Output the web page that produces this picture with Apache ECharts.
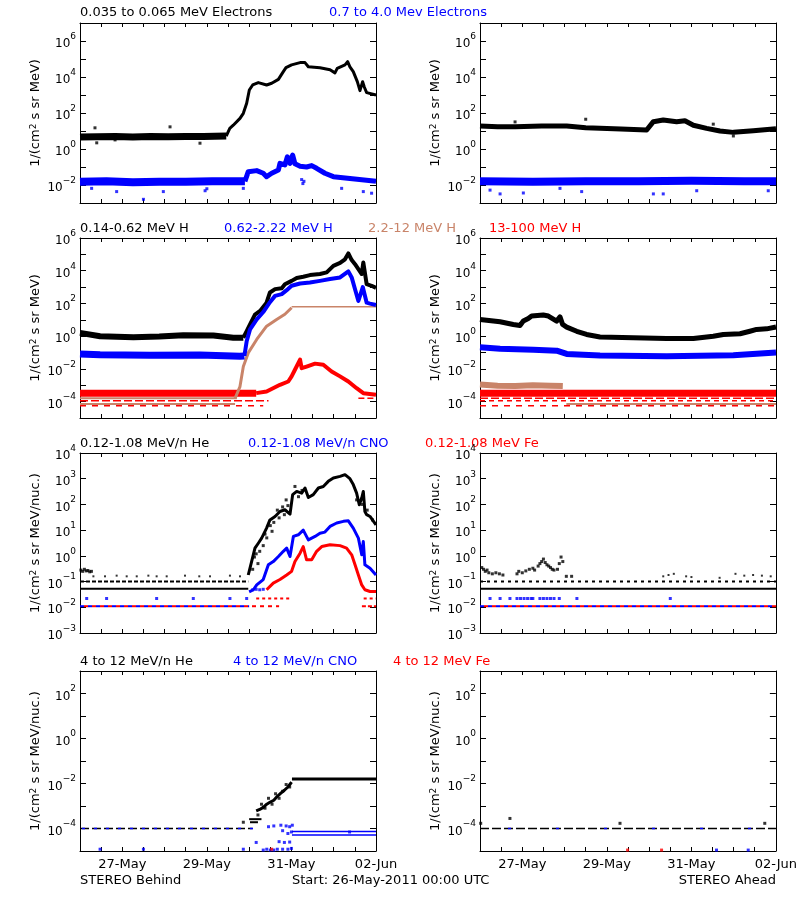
<!DOCTYPE html>
<html><head><meta charset="utf-8">
<script src="https://cdn.jsdelivr.net/npm/echarts@6/dist/echarts.min.js"></script>
<style>html,body{margin:0;padding:0;background:#fff}#c{width:800px;height:900px}</style>
</head><body><div id="c"></div>
<script>
// ---------- tick labels / texts ----------
const xTickHours = [24, 72, 120, 168];
const xTickLabels = ['27-May', '29-May', '31-May', '02-Jun'];
const row1Titles = [['0.035 to 0.065 MeV Electrons', 'k'], ['0.7 to 4.0 Mev Electrons', 'b']];
const row2Titles = [['0.14-0.62 MeV H', 'k'], ['0.62-2.22 MeV H', 'b'], ['2.2-12 MeV H', 'o'], ['13-100 MeV H', 'r']];
const row3Titles = [['0.12-1.08 MeV/n He', 'k'], ['0.12-1.08 MeV/n CNO', 'b'], ['0.12-1.08 MeV Fe', 'r']];
const row4Titles = [['4 to 12 MeV/n He', 'k'], ['4 to 12 MeV/n CNO', 'b'], ['4 to 12 MeV Fe', 'r']];
const footerTexts = ['STEREO Behind', 'Start: 26-May-2011 00:00 UTC', 'STEREO Ahead'];
const yNameE = '1/(cm{s|2} s sr MeV)';
const yNameN = '1/(cm{s|2} s sr MeV/nuc.)';

// ---------- data (hours after 26-May-2011 00:00, values) ----------
// Row 1 : electrons
const eLoB_base_t = [0, 10, 20, 30, 40, 50, 60, 70, 83];
const eLoB_base_v = [4.6, 4.8, 4.9, 4.7, 5.0, 4.8, 5.0, 4.9, 5.2];
const eLoB_t = [83, 85, 87, 90.8, 92.7, 94.6, 96.1, 98, 101.2, 105.9, 108.8, 112.6, 115.4, 116.9, 120.1, 124.9, 127.7, 129.6, 136.2, 141.9, 144.7, 146, 150.4, 151.9, 153.2, 155.1, 157.4, 158.9, 160.4, 161.4, 162.7, 168];
const eLoB_v = [5.2, 14, 21, 50, 96, 345, 1900, 3600, 4900, 3600, 4500, 7400, 20000, 33000, 47000, 63000, 63000, 37000, 33000, 25000, 17000, 30000, 47000, 71000, 37000, 20000, 5500, 1740, 5500, 2700, 1350, 1000];
const eLoB_out_t = [8.5, 9.5, 19.9, 51.1, 68.1];
const eLoB_out_v = [15, 2.2, 3.2, 17, 2.1];
const eHiB_base_t = [0, 15, 30, 45, 60, 75, 93.6];
const eHiB_base_v = [0.015, 0.016, 0.014, 0.015, 0.015, 0.016, 0.016];
const eHiB_t = [93.6, 95.5, 100.3, 104, 105.9, 108.8, 112.6, 113.5, 116.3, 117.7, 119.2, 120.7, 122, 124.9, 128.6, 131.5, 134.3, 139, 143.8, 153.2, 168];
const eHiB_v = [0.016, 0.055, 0.063, 0.045, 0.029, 0.045, 0.068, 0.16, 0.13, 0.37, 0.16, 0.46, 0.15, 0.11, 0.1, 0.12, 0.085, 0.045, 0.029, 0.023, 0.016];
const eHiB_out_t = [6.6, 20.8, 36, 47.3, 71, 72, 92.7, 125.8, 126.5, 127.1, 148.5, 160.8, 165.5];
const eHiB_out_v = [0.0065, 0.0043, 0.0016, 0.0043, 0.0048, 0.0062, 0.0065, 0.02, 0.012, 0.016, 0.0065, 0.0043, 0.0035];
const eLoA_t = [0, 10, 20, 35, 49.2, 60, 68.1, 80, 94.6, 98.4, 104, 111.6, 116.3, 121.1, 128.6, 136.2, 143.8, 155.1, 168];
const eLoA_v = [19, 17, 17, 19, 19, 15, 14, 13, 11.4, 33, 41, 33, 37, 21, 14, 10, 8.4, 10.4, 13.5];
const eLoA_out_t = [19.9, 60, 132.4, 143.8];
const eLoA_out_v = [32, 45, 24, 5.3];
const eHiA_t = [0, 30, 60, 90, 120, 150, 168];
const eHiA_v = [0.016, 0.015, 0.016, 0.016, 0.017, 0.016, 0.016];
const eHiA_out_t = [5.7, 11.4, 24.6, 45.4, 57.7, 98.4, 104, 123, 163.6];
const eHiA_out_v = [0.0052, 0.0032, 0.0036, 0.0065, 0.0043, 0.0032, 0.0032, 0.0048, 0.0048];

// Row 2 : protons
const h1B_base_t = [0, 11.4, 30.3, 45, 58.6, 75.7, 87, 92.7];
const h1B_base_v = [1.6, 1.0, 0.87, 0.95, 1.15, 1.1, 0.8, 0.8];
const h1B_t = [92.7, 94.6, 96.5, 99.3, 102.2, 105.9, 107.8, 110.7, 114.5, 116.3, 120.1, 123, 126.7, 130.5, 136.2, 140, 143.8, 147.6, 150.4, 152.3, 154.2, 156.1, 158, 159.9, 160.8, 162.7, 165.5, 168];
const h1B_v = [0.8, 2, 5.2, 21, 35, 112, 470, 750, 860, 1500, 2400, 3600, 4300, 5400, 6300, 7900, 20000, 30000, 50000, 115000, 45000, 25000, 12600, 6300, 32000, 1500, 1200, 900];
const h2B_base_t = [0, 11.4, 39.7, 68.1, 90.8, 93.3];
const h2B_base_v = [0.082, 0.074, 0.068, 0.07, 0.059, 0.062];
const h2B_t = [93.3, 94.6, 96.5, 100.3, 104, 107.8, 110.7, 114.5, 117.3, 120.1, 124.9, 130.5, 136.2, 141.9, 147.6, 152.3, 154.2, 156.1, 158, 160.5, 162.7, 164.6, 168];
const h2B_v = [0.062, 0.49, 2.6, 10.6, 30, 120, 290, 370, 650, 1200, 1660, 1900, 2400, 3100, 3900, 9100, 3900, 740, 141, 1000, 112, 98, 81];
const h3B_lv1_t = [0, 89];
const h3B_lv1_v = [1.6e-4, 1.6e-4];
const h3B_lv2_t = [0, 88];
const h3B_lv2_v = [7.2e-5, 7.2e-5];
const h3B_t = [88, 90.8, 92.7, 95.5, 100.3, 105.9, 111.6, 116.3, 120.1];
const h3B_v = [1.6e-4, 8.3e-4, 0.014, 0.095, 0.63, 4.1, 10.6, 22, 55];
const h3B_sat_t = [120.1, 168];
const h3B_sat_v = [64, 64];
const h4B_base_t = [0, 20, 40, 60, 80, 100];
const h4B_base_v = [3.3e-4, 3.2e-4, 3.3e-4, 3.2e-4, 3.3e-4, 3.3e-4];
const h4B_t = [100, 105.9, 113.5, 118.2, 120.1, 122, 124.9, 125.8, 128.6, 133.4, 138.1, 142.8, 147.6, 152.3, 157, 160.8, 168];
const h4B_v = [3.3e-4, 4.2e-4, 1.07e-3, 1.7e-3, 3.5e-3, 8.9e-3, 0.037, 0.011, 0.014, 0.021, 0.018, 7e-3, 3.5e-3, 1.7e-3, 6.6e-4, 3.3e-4, 2.6e-4];
const h4B_q1_t = [0, 107];
const h4B_q1_v = [1.15e-4, 1.15e-4];
const h4B_q2_t = [0, 104];
const h4B_q2_v = [5.6e-5, 5.6e-5];
const h4B_q3_t = [158, 168];
const h4B_q3_v = [1.6e-4, 1.6e-4];
const h1A_t = [0, 11.4, 18.9, 22.7, 24.6, 27.4, 29.3, 35.9, 38.8, 43.5, 45.4, 46.9, 49.2, 54.9, 60.5, 68.1, 87, 105.9, 121.1, 132.4, 138.1, 147.6, 153.2, 157, 162.7, 168];
const h1A_v = [10.6, 7.6, 5.2, 4.5, 8.4, 12, 17, 19.6, 17, 8.4, 15, 5.2, 3.6, 2, 1.27, 0.9, 0.79, 0.72, 0.72, 0.98, 1.27, 1.4, 2.0, 2.6, 2.8, 3.6];
const h2A_t = [0, 11.4, 30.3, 43.5, 49.2, 68.1, 105.9, 143.8, 168];
const h2A_v = [0.21, 0.17, 0.15, 0.13, 0.082, 0.065, 0.059, 0.068, 0.1];
const h3A_base_t = [0, 10, 20, 30, 40, 47];
const h3A_base_v = [1.1e-3, 9.5e-4, 9e-4, 1.0e-3, 9.5e-4, 9e-4];
const h3A_low_t = [49, 168];
const h3A_low_v = [7.2e-5, 7.2e-5];
const h4A_t = [0, 40, 80, 120, 168];
const h4A_v = [3.3e-4, 3.2e-4, 3.3e-4, 3.3e-4, 3.3e-4];
const h4A_q1_t = [0, 168];
const h4A_q1_v = [1.6e-4, 1.6e-4];
const h4A_q2_t = [0, 168];
const h4A_q2_v = [1.15e-4, 1.15e-4];
const h4A_q3_t = [0, 168];
const h4A_q3_v = [5.6e-5, 5.6e-5];

// Row 3 : 0.12-1.08 MeV/n ions
const heB_lo_t = [0, 95.5];
const heB_lo_v = [0.052, 0.052];
const heB_mid_t = [0, 95.5];
const heB_mid_v = [0.1, 0.1];
const heB_early_t = [0.5, 1.5, 2.5, 3.5, 4.5, 5.5, 6.5];
const heB_early_v = [0.28, 0.25, 0.3, 0.26, 0.27, 0.24, 0.25];
const heB_dots_t = [7.6, 14.2, 20.8, 26.5, 32.2, 38.8, 43.5, 49.2, 59.6, 67.7, 73.8, 85.1, 90.8];
const heB_dots_v = [0.16, 0.16, 0.17, 0.16, 0.16, 0.17, 0.16, 0.16, 0.17, 0.16, 0.16, 0.17, 0.16];
const heB_t = [95.5, 97.4, 99.3, 101.2, 103.1, 105.9, 107.8, 110.7, 113.5, 116.3, 119.2, 120.7, 123, 125.8, 127.7, 129.6, 132.4, 135.3, 138.1, 140.9, 143.8, 147.6, 150.4, 153.2, 155.1, 157, 158.5, 159.9, 160.8, 161.7, 162.7, 164.6, 168];
const heB_v = [0.18, 0.6, 2, 3.1, 4.9, 12, 25, 34, 53, 62, 42, 240, 320, 275, 435, 186, 240, 435, 500, 790, 1070, 1230, 1440, 1000, 590, 275, 97, 178, 320, 53, 40, 34, 16];
const heB_sc_t = [98, 99, 100, 101, 102, 104, 105, 106, 108, 109, 110, 112, 113, 115, 116, 117, 118, 122, 124, 126, 157, 160, 163, 166];
const heB_sc_v = [0.3, 0.9, 1.2, 0.5, 1.5, 2.5, 7, 5, 15, 9, 20, 60, 30, 80, 40, 150, 90, 500, 200, 350, 150, 100, 60, 25];
const cnoB_lo_t = [0, 96];
const cnoB_lo_v = [0.011, 0.011];
const cnoB_dots_t = [3.8, 15.1, 43.5, 64.3, 85.1, 94.6, 98, 100, 102, 104];
const cnoB_dots_v = [0.022, 0.022, 0.022, 0.022, 0.022, 0.022, 0.048, 0.05, 0.048, 0.05];
const cnoB_t = [96, 98.4, 100.3, 104, 106.9, 109.7, 112.6, 115.4, 117.3, 119.2, 121.1, 123.9, 126.7, 129.6, 133.4, 136.2, 139, 141.9, 145.7, 149.5, 152.3, 155.1, 158, 159.9, 160.8, 161.7, 164.6, 168];
const cnoB_v = [0.04, 0.048, 0.074, 0.12, 0.45, 0.6, 0.94, 1.5, 2, 0.94, 5.7, 6.6, 10, 4.2, 5.7, 7.6, 8.4, 14, 19, 22, 23, 12, 4.9, 1.1, 3.6, 0.45, 0.33, 0.18];
const feB_lo_t = [0, 113];
const feB_lo_v = [0.011, 0.011];
const feB_lo2_t = [160, 168];
const feB_lo2_v = [0.011, 0.011];
const feB_q_t = [100, 120];
const feB_q_v = [0.022, 0.022];
const feB_q2_t = [161, 168];
const feB_q2_v = [0.022, 0.022];
const feB_t = [105.9, 109.7, 113.5, 117.3, 120.1, 122, 124.9, 126.7, 128.6, 131.5, 134.3, 137.2, 141.9, 147.6, 151.3, 154.2, 156.1, 158, 159.9, 161.7, 164.6, 168];
const feB_v = [0.048, 0.087, 0.12, 0.18, 0.25, 0.6, 1.27, 2.3, 0.7, 0.7, 1.5, 2.3, 2.7, 2.5, 2, 1.1, 0.45, 0.18, 0.074, 0.048, 0.041, 0.041];
const heA_lo_t = [0.5, 168];
const heA_lo_v = [0.052, 0.052];
const heA_mid_t = [0, 168];
const heA_mid_v = [0.1, 0.1];
const heA_early_t = [1, 2, 3, 4, 5, 7, 9, 11, 13, 21, 22, 24, 26, 28, 30, 31, 33, 34, 35, 36, 37, 38, 39, 40, 41, 42, 44, 45, 46, 47, 49, 52];
const heA_early_v = [0.35, 0.3, 0.25, 0.28, 0.22, 0.2, 0.22, 0.2, 0.18, 0.2, 0.25, 0.22, 0.26, 0.3, 0.33, 0.28, 0.4, 0.5, 0.6, 0.75, 0.55, 0.45, 0.4, 0.35, 0.3, 0.28, 0.3, 0.5, 0.9, 0.6, 0.16, 0.16];
const heA_dots_t = [104, 107, 110, 117, 120, 136, 145, 150, 155, 160, 165];
const heA_dots_v = [0.16, 0.18, 0.2, 0.16, 0.15, 0.14, 0.2, 0.17, 0.18, 0.17, 0.16];
const cnoA_lo_t = [0, 168];
const cnoA_lo_v = [0.011, 0.011];
const cnoA_dots_t = [5.7, 11.4, 17, 21, 23, 25, 27, 29, 30, 34, 36, 38, 40, 42, 45, 55, 108];
const cnoA_dots_v = [0.022, 0.022, 0.022, 0.022, 0.022, 0.022, 0.022, 0.022, 0.022, 0.022, 0.022, 0.022, 0.022, 0.022, 0.022, 0.022, 0.022];
const feA_lo_t = [0, 168];
const feA_lo_v = [0.011, 0.011];

// Row 4 : 4-12 MeV/n ions
const he4B_lo_t = [0, 98];
const he4B_lo_v = [1e-4, 1e-4];
const he4B_s1_t = [96, 103];
const he4B_s1_v = [2.6e-4, 2.6e-4];
const he4B_s2_t = [96.5, 101];
const he4B_s2_v = [1.9e-4, 1.9e-4];
const he4B_t = [100, 102, 104, 106, 108, 110, 112, 114, 116, 118, 120.1];
const he4B_v = [6e-4, 7e-4, 8.7e-4, 1.2e-3, 1.5e-3, 1.8e-3, 2.7e-3, 3.7e-3, 5e-3, 7e-3, 0.0115];
const he4B_sc_t = [92.7, 101, 103, 105, 107, 109, 111, 113, 115, 117, 119];
const he4B_sc_v = [1.9e-4, 4e-4, 1.2e-3, 8e-4, 2.2e-3, 1.2e-3, 3.5e-3, 2.2e-3, 4.5e-3, 9e-3, 7e-3];
const he4B_sat_t = [120.3, 168];
const he4B_sat_v = [0.016, 0.016];
const cno4B_lo_t = [0, 100];
const cno4B_lo_v = [1e-4, 1e-4];
const cno4B_sat1_t = [120.3, 168];
const cno4B_sat1_v = [7.4e-5, 7.4e-5];
const cno4B_sat2_t = [120.3, 168];
const cno4B_sat2_v = [5.2e-5, 5.2e-5];
const cno4B_dots_t = [11.4, 36, 92.7, 104, 106, 108, 110, 112, 115, 118, 120, 100, 113, 116, 119, 107, 110, 114, 117, 119, 120.5, 115, 118, 120, 153];
const cno4B_dots_v = [1.2e-5, 1.2e-5, 1.2e-5, 1.1e-5, 1.2e-5, 1.1e-5, 1.1e-5, 1.2e-5, 1.2e-5, 1.2e-5, 1.3e-5, 2.4e-5, 2.6e-5, 2.4e-5, 2.5e-5, 1.2e-4, 1.3e-4, 1.4e-4, 1.3e-4, 1.2e-4, 1.4e-4, 8e-5, 6e-5, 7e-5, 7e-5];
const fe4B_dots_t = [108.8];
const fe4B_dots_v = [1.2e-5];
const he4A_lo_t = [0, 168];
const he4A_lo_v = [1e-4, 1e-4];
const cno4A_lo_t = [0, 168];
const cno4A_lo_v = [1e-4, 1e-4];
const he4A_dots_t = [0.4, 17, 79.5, 161.7];
const he4A_dots_v = [1.7e-4, 2.8e-4, 1.7e-4, 1.7e-4];
const fe4A_dots_t = [83.8, 103.1];
const fe4A_dots_v = [1.1e-5, 1.1e-5];
const cno4A_dots_t = [134.3, 152.3];
const cno4A_dots_v = [1.1e-5, 1.1e-5];

// ---------- layout & style ----------
const FONT = 'DejaVu Sans';
const COL = { k: '#000000', b: '#0000ff', r: '#ff0000', o: '#c98469' };
const rows = [
  { top: 23, min: 1e-3, max: 1e7, all: false, name: yNameE, titles: row1Titles, tx: [80, 329] },
  { top: 238, min: 1e-5, max: 1e6, all: false, name: yNameE, titles: row2Titles, tx: [80, 224, 368, 489] },
  { top: 453, min: 1e-3, max: 1e4, all: true, name: yNameN, titles: row3Titles, tx: [80, 248, 425] },
  { top: 671, min: 1e-5, max: 1e3, all: false, name: yNameN, titles: row4Titles, tx: [80, 233, 393] }
];
const titleY = [13, 229, 444, 662];

const grids = [], xAxes = [], yAxes = [];
rows.forEach((r, ri) => {
  [80, 480].forEach((left, ci) => {
    const g = ri * 2 + ci;
    grids.push({ left, top: r.top, width: 296, height: 180 });
    const xBase = {
      type: 'value', gridIndex: g, min: 0, max: 168, interval: 12,
      axisLine: { show: true, onZero: false, lineStyle: { color: '#000', width: 1 } },
      axisTick: { show: true, inside: true, length: 4, lineStyle: { color: '#000' } },
      splitLine: { show: false }
    };
    xAxes.push(Object.assign({}, xBase, {
      position: 'bottom',
      axisLabel: {
        show: ri === 3, margin: 7, color: '#000', fontFamily: FONT, fontSize: 13,
        formatter: v => { const i = xTickHours.indexOf(v); return i < 0 ? '' : xTickLabels[i]; }
      }
    }));
    xAxes.push(Object.assign({}, xBase, { position: 'top', axisLabel: { show: false } }));
    const yBase = {
      type: 'log', logBase: 10, gridIndex: g, min: r.min, max: r.max, interval: 1,
      axisLine: { show: true, onZero: false, lineStyle: { color: '#000', width: 1 } },
      axisTick: { show: true, inside: true, length: 6, lineStyle: { color: '#000' } },
      splitLine: { show: false }, minorTick: { show: false }
    };
    yAxes.push(Object.assign({}, yBase, {
      position: 'left',
      name: r.name, nameLocation: 'middle', nameGap: 38,
      nameTextStyle: {
        color: '#000', fontFamily: FONT, fontSize: 13,
        rich: { s: { fontSize: 9, fontFamily: FONT, color: '#000', verticalAlign: 'top', lineHeight: 10 } }
      },
      axisLabel: {
        show: true, margin: 4, color: '#000',
        formatter: v => {
          const e = Math.round(Math.log10(v));
          if (!r.all && e % 2 !== 0) return '';
          return '{b|10}{s|' + (e < 0 ? '\u2212' + (-e) : e) + '}';
        },
        rich: {
          b: { fontSize: 12, fontFamily: FONT, color: '#000', lineHeight: 18, verticalAlign: 'bottom' },
          s: { fontSize: 9, fontFamily: FONT, color: '#000', lineHeight: 10, verticalAlign: 'top' }
        }
      }
    }));
    yAxes.push(Object.assign({}, yBase, { position: 'right', axisLabel: { show: false } }));
  });
});

const S = [];
const pairs = (t, v) => t.map((x, i) => [x, v[i]]);
function L(g, t, v, c, w, dash, off) {
  S.push({ type: 'line', xAxisIndex: 2 * g, yAxisIndex: 2 * g, data: pairs(t, v), symbol: 'none', silent: true,
    lineStyle: { color: COL[c], width: w, type: dash || 'solid', dashOffset: off || 0, cap: 'butt', join: 'round' } });
}
function D(g, t, v, c, sz) {
  S.push({ type: 'scatter', xAxisIndex: 2 * g, yAxisIndex: 2 * g, data: pairs(t, v), symbol: 'rect', symbolSize: sz || 2, silent: true,
    itemStyle: { color: COL[c] } });
}
// row 1
L(0, eLoB_base_t, eLoB_base_v, 'k', 7); L(0, eLoB_t, eLoB_v, 'k', 3); D(0, eLoB_out_t, eLoB_out_v, 'k', 3);
L(0, eHiB_base_t, eHiB_base_v, 'b', 8); L(0, eHiB_t, eHiB_v, 'b', 5); D(0, eHiB_out_t, eHiB_out_v, 'b', 3);
L(1, eLoA_t, eLoA_v, 'k', 5); D(1, eLoA_out_t, eLoA_out_v, 'k', 3);
L(1, eHiA_t, eHiA_v, 'b', 8); D(1, eHiA_out_t, eHiA_out_v, 'b', 3);
// row 2
L(2, h3B_lv1_t, h3B_lv1_v, 'o', 2); L(2, h3B_lv2_t, h3B_lv2_v, 'o', 2);
L(2, h4B_q1_t, h4B_q1_v, 'r', 1.5, [8, 3]); L(2, h4B_q2_t, h4B_q2_v, 'r', 1.5, [6, 6]); L(2, h4B_q3_t, h4B_q3_v, 'r', 1.5, [6, 3]);
L(2, h4B_base_t, h4B_base_v, 'r', 7); L(2, h4B_t, h4B_v, 'r', 4);
L(2, h3B_t, h3B_v, 'o', 3); L(2, h3B_sat_t, h3B_sat_v, 'o', 1.5);
L(2, h1B_base_t, h1B_base_v, 'k', 6); L(2, h1B_t, h1B_v, 'k', 4);
L(2, h2B_base_t, h2B_base_v, 'b', 7); L(2, h2B_t, h2B_v, 'b', 4);
L(3, h4A_q1_t, h4A_q1_v, 'r', 1.5, [8, 3]); L(3, h4A_q2_t, h4A_q2_v, 'r', 1.5, [5, 4]); L(3, h4A_q3_t, h4A_q3_v, 'r', 1.5, [6, 6]);
L(3, h3A_low_t, h3A_low_v, 'o', 2);
L(3, h4A_t, h4A_v, 'r', 7);
L(3, h3A_base_t, h3A_base_v, 'o', 6);
L(3, h1A_t, h1A_v, 'k', 5); L(3, h2A_t, h2A_v, 'b', 6);
// row 3
L(4, heB_lo_t, heB_lo_v, 'k', 2); L(4, heB_mid_t, heB_mid_v, 'k', 2, [4, 2]);
D(4, heB_early_t, heB_early_v, 'k', 3); D(4, heB_dots_t, heB_dots_v, 'k', 2);
L(4, cnoB_lo_t, cnoB_lo_v, 'b', 2, [4, 4]); L(4, feB_lo_t, feB_lo_v, 'r', 2, [4, 4], 4); L(4, feB_lo2_t, feB_lo2_v, 'r', 2, [4, 2]);
L(4, feB_q_t, feB_q_v, 'r', 2, [3, 3]); L(4, feB_q2_t, feB_q2_v, 'r', 2, [3, 3]);
D(4, cnoB_dots_t, cnoB_dots_v, 'b', 3);
L(4, heB_t, heB_v, 'k', 3); D(4, heB_sc_t, heB_sc_v, 'k', 3);
L(4, cnoB_t, cnoB_v, 'b', 3); L(4, feB_t, feB_v, 'r', 3);
L(5, heA_lo_t, heA_lo_v, 'k', 2); L(5, heA_mid_t, heA_mid_v, 'k', 2, [3, 4]);
D(5, heA_early_t, heA_early_v, 'k', 3); D(5, heA_dots_t, heA_dots_v, 'k', 2);
L(5, cnoA_lo_t, cnoA_lo_v, 'b', 2, [4, 4]); L(5, feA_lo_t, feA_lo_v, 'r', 2, [4, 4], 4);
D(5, cnoA_dots_t, cnoA_dots_v, 'b', 3);
// row 4
L(6, he4B_lo_t, he4B_lo_v, 'k', 1.5, [9, 3]); L(6, cno4B_lo_t, cno4B_lo_v, 'b', 1.5, [3, 9], 10);
L(6, he4B_s1_t, he4B_s1_v, 'k', 2); L(6, he4B_s2_t, he4B_s2_v, 'k', 2);
L(6, he4B_t, he4B_v, 'k', 3); D(6, he4B_sc_t, he4B_sc_v, 'k', 3); L(6, he4B_sat_t, he4B_sat_v, 'k', 3);
L(6, cno4B_sat1_t, cno4B_sat1_v, 'b', 1.5); L(6, cno4B_sat2_t, cno4B_sat2_v, 'b', 1.5);
D(6, cno4B_dots_t, cno4B_dots_v, 'b', 3); D(6, fe4B_dots_t, fe4B_dots_v, 'r', 3);
L(7, he4A_lo_t, he4A_lo_v, 'k', 1.5, [9, 3]); L(7, cno4A_lo_t, cno4A_lo_v, 'b', 1.5, [3, 45], 20);
D(7, he4A_dots_t, he4A_dots_v, 'k', 3); D(7, fe4A_dots_t, fe4A_dots_v, 'r', 3); D(7, cno4A_dots_t, cno4A_dots_v, 'b', 3);

// ---------- texts ----------
const graphic = [];
rows.forEach((r, ri) => {
  r.titles.forEach((tt, i) => {
    graphic.push({ type: 'text', x: r.tx[i], y: titleY[ri], silent: true,
      style: { text: tt[0], fill: COL[tt[1]], font: '13px "' + FONT + '"', textAlign: 'left', textVerticalAlign: 'middle' } });
  });
});
graphic.push({ type: 'text', x: 80, y: 881, silent: true, style: { text: footerTexts[0], fill: '#000', font: '13px "' + FONT + '"', textAlign: 'left', textVerticalAlign: 'middle' } });
graphic.push({ type: 'text', x: 292, y: 881, silent: true, style: { text: footerTexts[1], fill: '#000', font: '13px "' + FONT + '"', textAlign: 'left', textVerticalAlign: 'middle' } });
graphic.push({ type: 'text', x: 776, y: 881, silent: true, style: { text: footerTexts[2], fill: '#000', font: '13px "' + FONT + '"', textAlign: 'right', textVerticalAlign: 'middle' } });

const chart = echarts.init(document.getElementById('c'), null, { renderer: 'canvas' });
chart.setOption({
  animation: false,
  backgroundColor: '#fff',
  grid: grids, xAxis: xAxes, yAxis: yAxes, series: S, graphic
});
</script></body></html>
